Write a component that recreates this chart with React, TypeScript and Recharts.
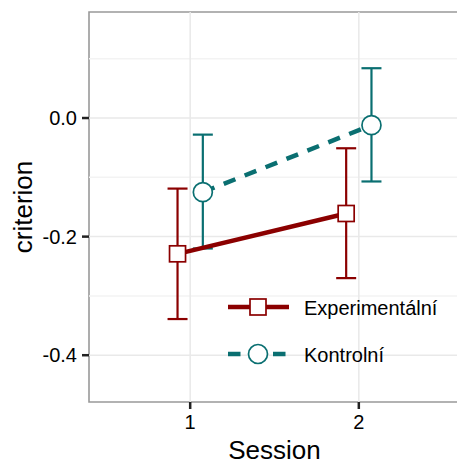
import React from "react";
import { ComposedChart, Line, XAxis, YAxis, ErrorBar, ReferenceLine, ReferenceArea, Legend } from "recharts";

// sessions on the x axis, one point per group in each session
const sessions = [1, 2];
const groupNames = ["Experimentální", "Kontrolní"];

// mean criterion with lower / upper interval bounds
const expMean = [-0.229, -0.161];
const expLower = [-0.339, -0.27];
const expUpper = [-0.119, -0.051];

const ctrlMean = [-0.125, -0.012];
const ctrlLower = [-0.22, -0.107];
const ctrlUpper = [-0.028, 0.084];

const yTicks = [-0.4, -0.2, 0];
const yMinorGrid = [-0.3, -0.1, 0.1];

const FONT = "'Liberation Sans', Arial, Helvetica, sans-serif";
const RED = "#8B0000";
const TEAL = "#0a6f71";
const DODGE = 0.075;
const X_DOMAIN: [number, number] = [0.4, 2.6];
const Y_DOMAIN: [number, number] = [-0.4789, 0.1788];

function buildRows(mean: number[], lower: number[], upper: number[], shift: number) {
  return sessions.map((s, i) => ({
    x: s + shift,
    y: mean[i],
    err: [mean[i] - lower[i], upper[i] - mean[i]],
  }));
}

const expRows = buildRows(expMean, expLower, expUpper, -DODGE);
const ctrlRows = buildRows(ctrlMean, ctrlLower, ctrlUpper, DODGE);

const SquareDot = (props: any) => {
  const { cx, cy, index } = props;
  if (cx == null || cy == null) return <g key={`sq-${index}`} />;
  return <rect key={`sq-${index}`} x={cx - 8} y={cy - 8} width={16} height={16} fill="#fff" stroke={RED} strokeWidth={1.7} />;
};

const CircleDot = (props: any) => {
  const { cx, cy, index } = props;
  if (cx == null || cy == null) return <g key={`ci-${index}`} />;
  return <circle key={`ci-${index}`} cx={cx} cy={cy} r={9.5} fill="#fff" stroke={TEAL} strokeWidth={1.7} />;
};

const legendItems = [
  { name: groupNames[0], color: RED, dash: undefined as string | undefined, marker: "square" },
  { name: groupNames[1], color: TEAL, dash: "12.5 10", marker: "circle" },
];

const renderLegend = () => (
  <svg width={230} height={95} style={{ display: "block" }}>
    {legendItems.map((it, i) => {
      const cy = 27 + i * 47;
      return (
        <g key={it.name}>
          <line x1={8} x2={69} y1={cy} y2={cy} stroke={it.color} strokeWidth={4.5} strokeDasharray={it.dash} />
          {it.marker === "square" ? (
            <rect x={30} y={cy - 8} width={16} height={16} fill="#fff" stroke={it.color} strokeWidth={1.7} />
          ) : (
            <circle cx={38} cy={cy} r={9.5} fill="#fff" stroke={it.color} strokeWidth={1.7} />
          )}
          <text x={84} y={cy + 7.7} fontSize={20} fontFamily={FONT} fill="#000">
            {it.name}
          </text>
        </g>
      );
    })}
  </svg>
);

const YTitle = (props: any) => {
  const vb = props.viewBox || { x: 0, y: 12, height: 390 };
  const x = vb.x + 32;
  const y = vb.y + vb.height / 2;
  return (
    <text x={x} y={y} transform={`rotate(-90 ${x} ${y})`} textAnchor="middle" fontSize={26} fontFamily={FONT} fill="#000">
      criterion
    </text>
  );
};

export default function App() {
  return (
    <div style={{ position: "absolute", left: 0, top: 0, width: 457, height: 461, overflow: "hidden", background: "#fff" }}>
      <ComposedChart width={472} height={461} margin={{ top: 12, right: 12, bottom: 0, left: 0 }}>
        <XAxis
          dataKey="x"
          type="number"
          domain={X_DOMAIN}
          ticks={sessions}
          allowDataOverflow
          interval={0}
          height={59}
          axisLine={false}
          tickSize={7}
          tickMargin={6}
          tickLine={{ stroke: "#222", strokeWidth: 2.5 }}
          tick={{ fontSize: 20, fill: "#000", fontFamily: FONT }}
          label={{ value: "Session", position: "insideBottom", offset: 2, fontSize: 26, fill: "#000", fontFamily: FONT }}
        />
        <YAxis
          type="number"
          domain={Y_DOMAIN}
          ticks={yTicks}
          allowDataOverflow
          interval={0}
          width={89}
          axisLine={false}
          tickSize={7}
          tickMargin={5}
          tickLine={{ stroke: "#222", strokeWidth: 2.5 }}
          tick={{ fontSize: 20, fill: "#000", fontFamily: FONT }}
          tickFormatter={(v: number) => v.toFixed(1)}
          label={{ content: YTitle }}
        />

        {yMinorGrid.map((v) => (
          <ReferenceLine key={`mi${v}`} y={v} stroke="#f3f3f3" strokeWidth={1.5} />
        ))}
        {yTicks.map((v) => (
          <ReferenceLine key={`ma${v}`} y={v} stroke="#e9e9e9" strokeWidth={1.5} />
        ))}
        {sessions.map((s) => (
          <ReferenceLine key={`vx${s}`} x={s} stroke="#e9e9e9" strokeWidth={1.5} />
        ))}

        <Line
          data={ctrlRows}
          dataKey="y"
          name={groupNames[1]}
          stroke={TEAL}
          strokeWidth={4.5}
          strokeDasharray="12.5 10"
          dot={CircleDot}
          activeDot={false}
          isAnimationActive={false}
        >
          <ErrorBar dataKey="err" direction="y" width={10} stroke={TEAL} strokeWidth={2.2} />
        </Line>
        <Line
          data={expRows}
          dataKey="y"
          name={groupNames[0]}
          stroke={RED}
          strokeWidth={4.5}
          dot={SquareDot}
          activeDot={false}
          isAnimationActive={false}
        >
          <ErrorBar dataKey="err" direction="y" width={10} stroke={RED} strokeWidth={2.2} />
        </Line>

        <ReferenceArea
          x1={X_DOMAIN[0]}
          x2={X_DOMAIN[1]}
          y1={Y_DOMAIN[0]}
          y2={Y_DOMAIN[1]}
          fill="none"
          stroke="#999"
          strokeWidth={1.6}
          ifOverflow="visible"
        />

        <Legend
          content={renderLegend}
          layout="vertical"
          align="center"
          verticalAlign="middle"
          wrapperStyle={{ left: 220, top: 280, width: 230 }}
        />
      </ComposedChart>
    </div>
  );
}
